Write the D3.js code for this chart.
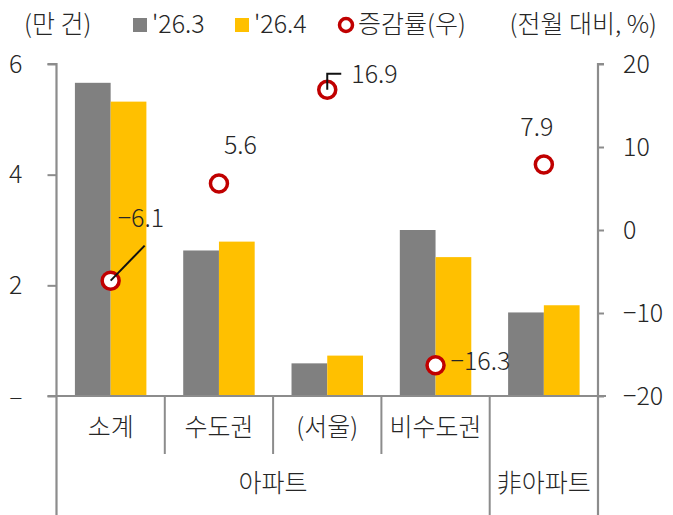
<!DOCTYPE html>
<html>
<head>
<meta charset="utf-8">
<script src="https://cdn.jsdelivr.net/npm/d3@7"></script>
<style>
  body { margin: 0; background: #fff; }
  text { font-family: "Noto Sans CJK KR", "Noto Sans", sans-serif; font-weight: 300; fill: #262626; }
</style>
</head>
<body>
<div id="chart"></div>
<script>
// 데이터
const categories = ['소계', '수도권', '(서울)', '비수도권', '非아파트'];
const groupOf = ['아파트', '아파트', '아파트', '아파트', '非아파트'];
const series = ["'26.3", "'26.4"];
const mar = [5.66, 2.63, 0.59, 3.0, 1.51];
const apr = [5.32, 2.79, 0.73, 2.51, 1.64];
const growth = [-6.1, 5.6, 16.9, -16.3, 7.9];
const leftTicks = [0, 2, 4, 6];
const rightTicks = [-20, -10, 0, 10, 20];

const width = 673, height = 515;
const colors = { "'26.3": '#808080', "'26.4": '#FFC000' };
const red = '#C00000';
const axisColor = '#8c8c8c';
const fs = 25;

const svg = d3.select('#chart').append('svg')
  .attr('width', width)
  .attr('height', height);

// 스케일
const x0 = d3.scaleBand().domain(categories).range([56.5, 598]).padding(0);
const step = x0.bandwidth();
const x1 = d3.scaleBand().domain(series).range([step * 0.17, step * 0.83]);
const yL = d3.scaleLinear().domain([0, 6]).range([396, 64]);
const yR = d3.scaleLinear().domain([-20, 20]).range([396, 64]);

const minus = v => (v < 0 ? '\u2212' + Math.abs(v) : String(v));

// 막대
const rows = categories.map((c, i) => ({ cat: c, vals: [mar[i], apr[i]] }));
const grp = svg.selectAll('.grp')
  .data(rows)
  .enter().append('g')
  .attr('transform', d => `translate(${x0(d.cat)},0)`);

grp.selectAll('rect')
  .data(d => d.vals.map((v, j) => ({ s: series[j], v })))
  .enter().append('rect')
  .attr('x', d => x1(d.s))
  .attr('width', x1.bandwidth())
  .attr('y', d => yL(d.v))
  .attr('height', d => yL(0) - yL(d.v))
  .attr('fill', d => colors[d.s]);

// 축
const axL = svg.append('g')
  .attr('transform', `translate(${x0.range()[0]},0)`)
  .call(d3.axisLeft(yL).tickValues(leftTicks)
    .tickFormat(d => (d === 0 ? '–' : d))
    .tickSize(9).tickPadding(25));
const axR = svg.append('g')
  .attr('transform', `translate(${x0.range()[1]},0)`)
  .call(d3.axisRight(yR).tickValues(rightTicks)
    .tickFormat(minus)
    .tickSize(6).tickPadding(19));

[axL, axR].forEach(a => {
  a.select('.domain').attr('stroke', axisColor).attr('stroke-width', 2.2);
  a.selectAll('.tick line').attr('stroke', axisColor).attr('stroke-width', 2);
  a.selectAll('.tick text').style('font-size', fs + 'px').attr('fill', '#262626');
});
axL.select('.domain').attr('d', `M-9,${yL(6)}H0V${height}`);
axR.select('.domain').attr('d', `M6,${yR(20)}H0V${height}`);

// 기준선
svg.append('line')
  .attr('x1', x0.range()[0] - 9).attr('x2', x0.range()[1] + 8)
  .attr('y1', yL(0)).attr('y2', yL(0))
  .attr('stroke', axisColor).attr('stroke-width', 2.2);

// 하단 구분선과 라벨
const gSpans = [];
groupOf.forEach((g, i) => {
  const last = gSpans[gSpans.length - 1];
  if (last && last.label === g) last.to = i; else gSpans.push({ label: g, from: i, to: i });
});

categories.forEach((c, i) => {
  if (i === 0) return;
  const isGroupEdge = groupOf[i] !== groupOf[i - 1];
  svg.append('line')
    .attr('x1', x0(c)).attr('x2', x0(c))
    .attr('y1', yL(0)).attr('y2', isGroupEdge ? height : 454)
    .attr('stroke', axisColor).attr('stroke-width', 2);
});

svg.selectAll('.catlab')
  .data(categories.filter((c, i) => groupOf[i] !== c))
  .enter().append('text')
  .attr('x', d => x0(d) + step / 2)
  .attr('y', 436)
  .attr('text-anchor', 'middle')
  .style('font-size', fs + 'px')
  .text(d => d);

svg.selectAll('.grplab')
  .data(gSpans)
  .enter().append('text')
  .attr('x', d => (x0(categories[d.from]) + x0(categories[d.to]) + step) / 2)
  .attr('y', 492)
  .attr('text-anchor', 'middle')
  .style('font-size', fs + 'px')
  .text(d => d.label);

// 증감률 라벨 (위치 오프셋)
const labelOff = [
  { dx: 7, dy: -54, anchor: 'start', leader: 'M0,0L34,-35' },
  { dx: 5, dy: -30, anchor: 'start', leader: null },
  { dx: 24, dy: -7, anchor: 'start', leader: 'M0,0V-16H14' },
  { dx: 15, dy: 5, anchor: 'start', leader: null },
  { dx: -7, dy: -28, anchor: 'middle', leader: null }
];

const pts = svg.selectAll('.pt')
  .data(growth.map((v, i) => ({ v, cat: categories[i], off: labelOff[i] })))
  .enter().append('g')
  .attr('transform', d => `translate(${x0(d.cat) + step / 2},${yR(d.v)})`);

pts.append('circle')
  .attr('r', 8.5)
  .attr('fill', '#fff')
  .attr('stroke', red)
  .attr('stroke-width', 3.5);

pts.filter(d => d.off.leader).append('path')
  .attr('d', d => d.off.leader)
  .attr('fill', 'none')
  .attr('stroke', '#111')
  .attr('stroke-width', 2);

pts.append('text')
  .attr('x', d => d.off.dx)
  .attr('y', d => d.off.dy)
  .attr('text-anchor', d => d.off.anchor)
  .style('font-size', fs + 'px')
  .text(d => minus(d.v));

// 범례
const legY = 33;
svg.append('text').attr('x', 24).attr('y', legY).style('font-size', fs + 'px').text('(만 건)');
svg.append('rect').attr('x', 133).attr('y', legY - 15).attr('width', 14).attr('height', 14).attr('fill', colors[series[0]]);
svg.append('text').attr('x', 152).attr('y', legY).style('font-size', fs + 'px').text(series[0]);
svg.append('rect').attr('x', 235).attr('y', legY - 15).attr('width', 14).attr('height', 14).attr('fill', colors[series[1]]);
svg.append('text').attr('x', 254).attr('y', legY).style('font-size', fs + 'px').text(series[1]);
svg.append('circle').attr('cx', 346).attr('cy', legY - 8).attr('r', 6.5)
  .attr('fill', '#fff').attr('stroke', red).attr('stroke-width', 3.5);
svg.append('text').attr('x', 358).attr('y', legY).style('font-size', fs + 'px').text('증감률(우)');
svg.append('text').attr('x', 657).attr('y', legY).attr('text-anchor', 'end').style('font-size', fs + 'px').text('(전월 대비, %)');
</script>
</body>
</html>
